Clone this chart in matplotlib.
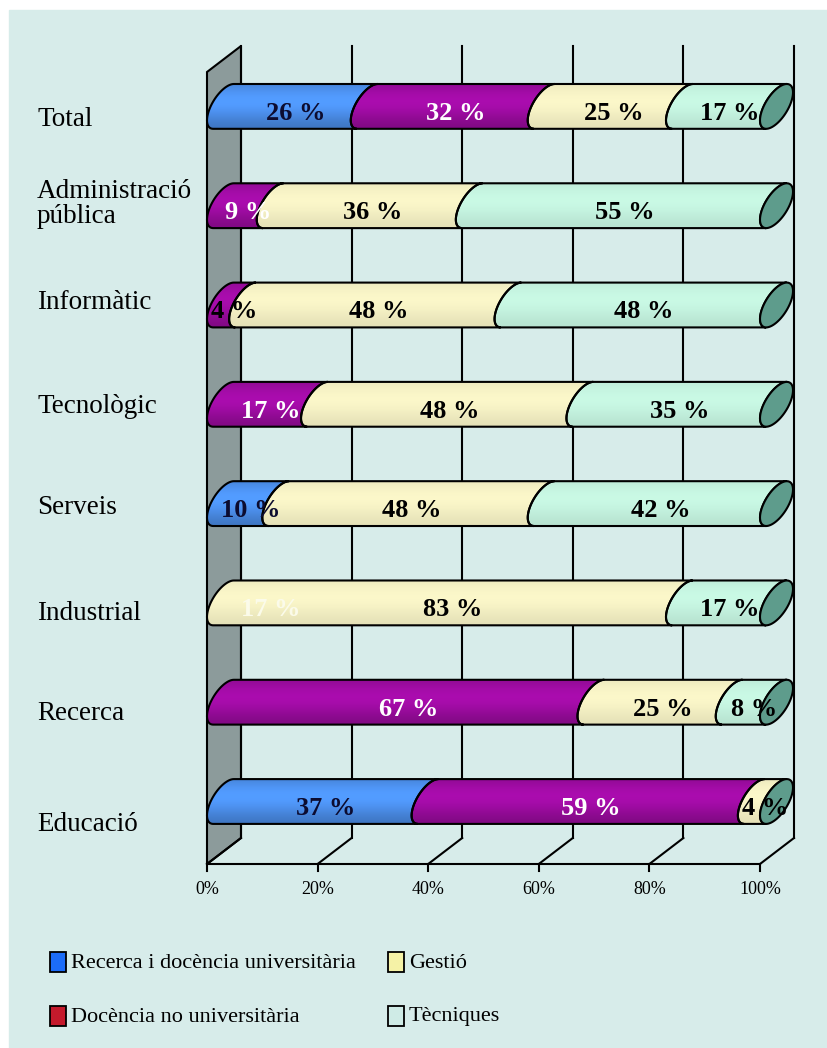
import numpy as np
import matplotlib.pyplot as plt
from matplotlib.patches import Polygon, Rectangle

plt.rcParams['font.family'] = ['Liberation Serif', 'DejaVu Serif']

# data (top to bottom)
categories = ['Total', 'Administració\npública', 'Informàtic', 'Tecnològic',
              'Serveis', 'Industrial', 'Recerca', 'Educació']
series = ['Recerca i docència universitària', 'Docència no universitària',
          'Gestió', 'Tècniques']
recerca_univ = [26, 0, 0, 0, 10, 0, 0, 37]
docencia_no_univ = [32, 9, 4, 17, 0, 0, 67, 59]
gestio = [25, 36, 48, 48, 48, 83, 25, 4]
tecniques = [17, 55, 48, 35, 42, 17, 8, 0]
ghost_label = ('Industrial', 17)   # faded label printed in the original
ticks = [0, 20, 40, 60, 80, 100]

bar_cols = ['#4f95f5', '#a20ca6', '#f7f3c6', '#c6f5e1']
txt_cols = ['#0c0c30', 'white', 'black', 'black']
leg_cols = ['#1c6cf8', '#c41a2c', '#f5f2a6', '#cfebe6']
cap_col = '#5e9c8c'
bg = '#d7ecea'

# geometry helpers (pixel -> data)
def fx(px):
    return (px - 207) / 5.53

def fy(py):
    return (801.5 - py) / 99.3

DX, DY = 34 / 5.53, 26 / 99.3          # depth offset
HX, HV, HY = 16.5 / 5.53, 17.5 / 99.3, 14 / 99.3
HALF = np.hypot(HV, HY)
t_top = np.arctan2(HV, HY)
t_bot = t_top + np.pi

fig = plt.figure(figsize=(8.27, 10.48), dpi=100, facecolor='white')
fig.patches.append(Rectangle((9 / 827, 0), 1, 1 - 10 / 1048,
                             transform=fig.transFigure, color=bg, zorder=-10))
ax = fig.add_axes([0, 0, 1, 1])
ax.axis('off')

y0 = fy(864)
ytop = fy(72)

# wall, grid, floor
ax.add_patch(Polygon([(0, y0), (0, ytop), (DX, ytop + DY), (DX, y0 + DY)],
                     closed=True, fc='#8c9b9b', ec='black', lw=1.5, zorder=1))
for t in ticks:
    ax.plot([t + DX, t + DX], [y0 + DY, ytop + DY], color='black', lw=1.5, zorder=1)
    ax.plot([t, t + DX], [y0, y0 + DY], color='black', lw=1.5, zorder=1)
    ax.plot([t, t], [y0, y0 - 0.07], color='black', lw=1.5, zorder=1)
    ax.text(t, fy(890), f'{t}%', ha='center', va='center', fontsize=13)
ax.plot([0, 100], [y0, y0], color='black', lw=1.5, zorder=1)


def arc(p, yc, t0, t1, n=40):
    t = np.linspace(t0, t1, n)
    return np.column_stack([p + HX + HX * np.cos(t),
                            yc + HV * np.sin(t) + HY * np.cos(t)])


def shade_img(color, strength):
    rgb = np.array(plt.matplotlib.colors.to_rgb(color))
    u = np.linspace(-1, 1, 80)
    s = np.exp(-((u - 0.25) / 0.9) ** 2)
    f = 1 - strength * (0.25 - 0.3 * s)
    img = np.clip(rgb[None, :] * f[:, None], 0, 1)
    return img[:, None, :]


data = np.array([recerca_univ, docencia_no_univ, gestio, tecniques], dtype=float)
n = len(categories)
label_off = [19.5, 17, 4, 8.6, 10.3, 17, 17.7, 29.4]   # px, label baselines

for i, cat in enumerate(categories):
    yc = n - 1 - i
    left = 0.0
    for k in range(4):
        w = data[k, i]
        if w <= 0:
            continue
        a, b = left, left + w
        pts = np.vstack([arc(a, yc, t_top, t_bot), arc(b, yc, t_bot, t_top)])
        poly = Polygon(pts, closed=True, fc='none', ec='black', lw=1.5, zorder=4)
        ax.add_patch(poly)
        im = ax.imshow(shade_img(bar_cols[k], 1.0 if k < 2 else 0.35),
                       extent=(a - 1, b + 2 * HX + 1, yc - HALF, yc + HALF),
                       origin='lower', aspect='auto', zorder=3,
                       interpolation='bilinear')
        clip = Polygon(pts, closed=True, transform=ax.transData)
        im.set_clip_path(clip)
        tc = txt_cols[k] if w >= 5 else 'black'
        ax.text((a + b) / 2 + HX, yc - 0.07, f'{int(w)} %', ha='center',
                va='center', fontsize=19, fontweight='bold', color=tc,
                zorder=10)
        left = b
    # end cap
    ax.add_patch(Polygon(arc(100, yc, 0, 2 * np.pi, 80), closed=True,
                         fc=cap_col, ec='black', lw=1.5, zorder=6))
    if cat == ghost_label[0]:
        ax.text(ghost_label[1] / 2 + HX, yc - 0.07, f'{ghost_label[1]} %',
                ha='center', va='center', fontsize=19, fontweight='bold',
                color='#fbfbea', zorder=10)
    ax.text(fx(37), yc - label_off[i] / 99.3, cat, ha='left', va='baseline',
            fontsize=19.5, linespacing=0.98, zorder=10)

# legend
leg_pos = [(50, 962), (50, 1016), (388, 962), (388, 1016)]
for (px, py), name, c in zip(leg_pos, series, leg_cols):
    ax.add_patch(Rectangle((fx(px), fy(py + 10)), 16 / 5.53, 20 / 99.3,
                           fc=c, ec='black', lw=1.3, zorder=5))
    ax.text(fx(px + 21), fy(py + 1), name, ha='left', va='center', fontsize=16)

ax.set_xlim(fx(0), fx(827))
ax.set_ylim(fy(1048), fy(0))
fig.savefig('out.png', dpi=100, facecolor='white')
